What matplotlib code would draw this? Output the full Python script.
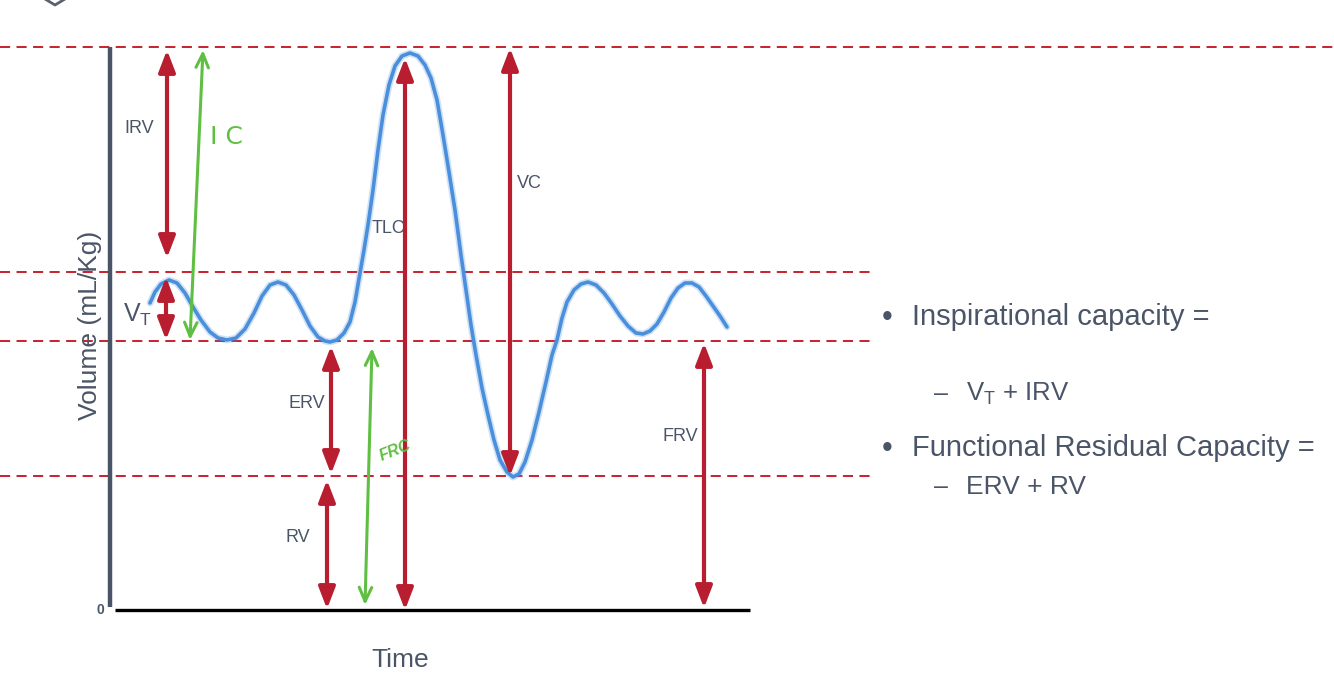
import matplotlib
matplotlib.use("Agg")
import matplotlib.pyplot as plt

plt.rcParams['font.family'] = ['Liberation Sans', 'DejaVu Sans']

# breathing trace (time in px units, volume above zero line)
time = [150, 155, 161, 169, 177, 185, 193, 201, 210, 218, 227, 236, 245, 254, 262,
        270, 278, 286, 294, 302, 310, 318, 325, 330, 337, 344, 350, 355, 360, 364,
        368, 373, 378, 383, 389, 395, 402, 410, 418, 425, 431, 437, 443, 449, 455,
        461, 466, 471, 476, 482, 488, 494, 500, 507, 513, 519, 525, 532, 539, 546,
        552, 557, 562, 567, 574, 581, 588, 596, 604, 612, 620, 628, 636, 643, 650,
        657, 664, 671, 678, 685, 692, 699, 706, 713, 720, 727]
trace_y = [303, 292, 284, 280, 283, 293, 307, 320, 332, 338, 340, 338, 329, 313, 296,
           285, 282, 285, 295, 310, 326, 337, 341, 342, 340, 333, 322, 302, 273, 250,
           225, 190, 150, 115, 85, 66, 56, 53, 56, 65, 78, 100, 135, 172, 210,
           255, 290, 325, 355, 388, 415, 440, 460, 472, 477, 474, 462, 440, 412, 382,
           355, 340, 318, 302, 290, 284, 282, 285, 293, 304, 316, 326, 333, 334, 331,
           324, 312, 298, 288, 283, 283, 287, 296, 306, 316, 327]
ZERO = 610
volume = [ZERO - y for y in trace_y]

# lung volume levels
TLC = 563
TIDAL_TOP = 338
FRC = 269
RV = 134

level_lines = [(TLC, 1334), (TIDAL_TOP, 872), (FRC, 872), (RV, 872)]

# red double arrows: label, x, bottom, top, label x, label y
red_arrows = [
    ("IRV", 167, TIDAL_TOP + 14, TLC - 3, 139, 482),
    ("", 166, FRC + 1, TIDAL_TOP - 5, 0, 0),
    ("ERV", 331, RV + 2, FRC - 5, 307, 207),
    ("RV", 327, 1, RV - 4, 298, 73),
    ("TLC", 405, 0, TLC - 11, 388, 382),
    ("VC", 510, RV, TLC - 1, 529, 427),
    ("FRV", 704, 2, FRC - 2, 680, 174),
]
# green hand-drawn arrows: x0, v0, x1, v1
green_arrows = [(190, FRC + 1, 203, TLC - 3), (365, 5, 372, FRC - 7)]

RED = '#b81d30'
GREEN = '#5fbf43'
BLUE = '#4a8fdc'
TXT = '#4b5568'

fig = plt.figure(figsize=(13.34, 6.94), dpi=100)
ax = fig.add_axes([0, 0, 1, 1])
ax.set_xlim(0, 1334)
ax.set_ylim(-84, 610)
ax.axis('off')

# dashed level lines
for v, xend in level_lines:
    ax.plot([0, xend], [v, v], color='#c8202f', lw=1.4, ls=(0, (5.2, 3.3)), zorder=1)

# axes
ax.plot([110, 110], [3, TLC], color='#4a5468', lw=3.2, solid_capstyle='butt')
ax.plot([115, 750], [0, 0], color='black', lw=2.4, solid_capstyle='butt')
ax.text(100, 0, "0", ha='center', va='center', fontsize=10, color=TXT, fontweight='bold')
ax.text(90, ZERO - 325, "Volume (mL/Kg)", rotation=90, ha='center', va='center',
        fontsize=19, color=TXT)
ax.text(400, ZERO - 660, "Time", ha='center', va='center', fontsize=19, color=TXT)

# top-left icon fragment
ax.plot([45, 55, 65], [ZERO + 1, ZERO - 5, ZERO + 1], color='#5a6070', lw=2)

# trace
ax.plot(time, volume, color=BLUE, lw=5, alpha=0.25, solid_capstyle='round', zorder=3)
ax.plot(time, volume, color=BLUE, lw=2.6, solid_capstyle='round', zorder=4)

# red arrows
for label, x, v0, v1, lx, ly in red_arrows:
    ax.annotate("", xy=(x, v1), xytext=(x, v0),
                arrowprops=dict(arrowstyle='<|-|>,head_length=1.3,head_width=0.5',
                                color=RED, lw=3, shrinkA=0, shrinkB=0,
                                mutation_scale=10), zorder=5)
    if label:
        ax.text(lx, ly, label, ha='center', va='center', fontsize=13, color=TXT)

ax.text(138, ZERO - 315, r"$\mathregular{V_T}$", ha='center', va='center',
        fontsize=18, color=TXT)

# green arrows
for x0, v0, x1, v1 in green_arrows:
    ax.annotate("", xy=(x1, v1), xytext=(x0, v0),
                arrowprops=dict(arrowstyle='<->,head_length=1.0,head_width=0.45',
                                color=GREEN, lw=2.2, shrinkA=0, shrinkB=0,
                                mutation_scale=10), zorder=6)
ax.text(226, ZERO - 137, "I C", ha='center', va='center', fontsize=18,
        color=GREEN, family='DejaVu Sans', zorder=7)
ax.text(395, ZERO - 451, "FRC", ha='center', va='center', fontsize=11.5,
        color=GREEN, fontweight='bold', style='italic', rotation=22, zorder=7)

# bullet text
ax.text(887, ZERO - 318, "\u2022", ha='center', va='center', fontsize=22, color=TXT)
ax.text(912, ZERO - 317, "Inspirational capacity =", ha='left', va='center',
        fontsize=21, color=TXT)
ax.text(941, ZERO - 394, "\u2013", ha='center', va='center', fontsize=18, color=TXT)
ax.text(966, ZERO - 394, r"$\mathregular{V_T}$ + IRV", ha='left', va='center',
        fontsize=18.5, color=TXT)
ax.text(887, ZERO - 449, "\u2022", ha='center', va='center', fontsize=22, color=TXT)
ax.text(912, ZERO - 448, "Functional Residual Capacity =", ha='left', va='center',
        fontsize=21, color=TXT)
ax.text(941, ZERO - 487, "\u2013", ha='center', va='center', fontsize=18, color=TXT)
ax.text(966, ZERO - 487, "ERV + RV", ha='left', va='center', fontsize=19, color=TXT)

fig.savefig("out.png", dpi=100)
